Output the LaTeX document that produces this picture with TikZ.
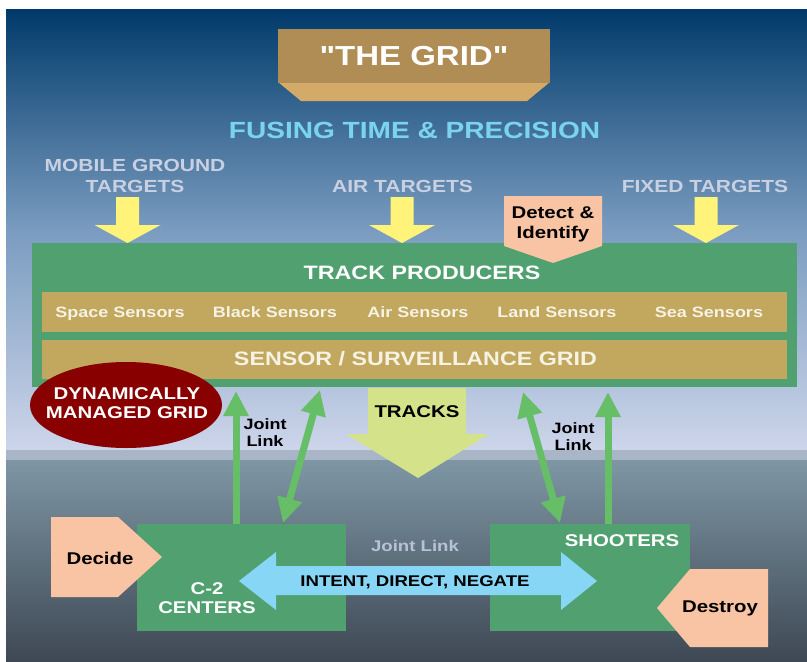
\documentclass[tikz,border=0pt]{standalone}
\usepackage{fontspec}
\setmainfont{Liberation Sans}[FakeStretch=1.2]
\newfontfamily\titlefont{Liberation Sans}[FakeStretch=1.2]
\usetikzlibrary{arrows.meta}
\definecolor{bgA}{RGB}{0,58,106}
\definecolor{bgB}{RGB}{122,156,192}
\definecolor{bgC}{RGB}{205,213,234}
\definecolor{bgBand}{RGB}{168,182,200}
\definecolor{bgD}{RGB}{126,150,164}
\definecolor{bgE}{RGB}{62,72,84}
\definecolor{titletan}{RGB}{176,141,85}
\definecolor{titlebevel}{RGB}{212,170,104}
\definecolor{fuse}{RGB}{122,212,240}
\definecolor{tgtgray}{RGB}{200,208,226}
\definecolor{yel}{RGB}{255,243,122}
\definecolor{boxgreen}{RGB}{80,160,112}
\definecolor{rowtan}{RGB}{194,168,94}
\definecolor{peach}{RGB}{248,196,164}
\definecolor{dred}{RGB}{136,0,0}
\definecolor{tracksc}{RGB}{212,227,138}
\definecolor{jgreen}{RGB}{102,190,102}
\definecolor{lblue}{RGB}{136,214,246}
\definecolor{jlgray}{RGB}{184,194,214}
\definecolor{cream}{RGB}{246,242,228}
\begin{document}
\begin{tikzpicture}[x=1pt,y=-1pt,
  every node/.style={inner sep=0pt, align=center, font=\bfseries},
  tgt/.style={font=\bfseries\fontsize{17.5}{20.5}\selectfont, text=tgtgray},
  sens/.style={font=\bfseries\fontsize{15}{17}\selectfont, text=cream, anchor=base},
  jl/.style={draw=jgreen, line width=7pt, -{Triangle[length=25pt,width=24pt]}},
  jld/.style={draw=jgreen, line width=7pt, {Triangle[length=25pt,width=24pt]}-{Triangle[length=25pt,width=24pt]}},
  yarrow/.pic={\fill[yel] (-11.5,0) -- (11.5,0) -- (11.5,28) -- (33,28) -- (0,46) -- (-33,28) -- (-11.5,28) -- cycle;}
]
\useasboundingbox (0,0) rectangle (807,662);
\fill[white] (0,0) rectangle (807,662);
% background
\shade[top color=bgA, bottom color=bgB] (6,9) rectangle (807,230.5);
\shade[top color=bgB, bottom color=bgC] (6,230) rectangle (807,450.5);
\fill[bgBand] (6,450) rectangle (807,460.5);
\shade[top color=bgD, bottom color=bgE] (6,460) rectangle (807,662);

% title
\fill[titlebevel] (278,82) -- (550,82) -- (527,101) -- (301,101) -- cycle;
\node[fill=titletan, minimum width=272pt, minimum height=54pt, text=white,
      font=\titlefont\bfseries\fontsize{27.5}{30}\selectfont] (title) at (414,56) {"THE GRID"};
\node[font=\bfseries\fontsize{23.4}{26}\selectfont, text=fuse] (fusing) at (414.5,130) {FUSING TIME \& PRECISION};

% target labels
\node[tgt] (mobile) at (135,176) {MOBILE GROUND\\TARGETS};
\node[tgt] (air) at (402.5,186.5) {AIR TARGETS};
\node[tgt] (fixed) at (705,186.5) {FIXED TARGETS};

% yellow arrows
\pic at (127.5,197) {yarrow};
\pic at (402,197) {yarrow};
\pic at (706,197) {yarrow};

% track producers
\node[fill=boxgreen, minimum width=765pt, minimum height=144pt] (track) at (414.5,315) {};
\node[font=\bfseries\fontsize{19.4}{22}\selectfont, text=white] (tplabel) at (422,273) {TRACK PRODUCERS};
\node[fill=rowtan, minimum width=745pt, minimum height=40pt] (sensors) at (414.5,312) {};
\node[sens] (space) at (120,317.5) {Space Sensors};
\node[sens] (black) at (275,317.5) {Black Sensors};
\node[sens] (airs) at (418,317.5) {Air Sensors};
\node[sens] (land) at (557,317.5) {Land Sensors};
\node[sens] (sea) at (709,317.5) {Sea Sensors};
\node[fill=rowtan, minimum width=745pt, minimum height=39pt] (grid) at (414.5,359.5) {};
\node[font=\bfseries\fontsize{19.4}{22}\selectfont, text=cream] (gridlabel) at (415.5,359) {SENSOR / SURVEILLANCE GRID};

% detect & identify
\fill[peach] (504,196) -- (602,196) -- (602,246) -- (553,263) -- (504,246) -- cycle;
\node[font=\bfseries\fontsize{17}{20}\selectfont] (detect) at (553,224.5) {Detect \&\\Identify};

% dynamically managed grid
\fill[dred] (126,405) ellipse [x radius=96, y radius=43];
\node[text=white, font=\bfseries\fontsize{17}{19}\selectfont] (dyn) at (127,403) {DYNAMICALLY\\MANAGED GRID};

% tracks arrow
\fill[tracksc] (368,388) -- (466,388) -- (466,434) -- (489,434) -- (418,478) -- (346,434) -- (368,434) -- cycle;
\node[font=\bfseries\fontsize{17}{19}\selectfont] (tracks) at (417,412) {TRACKS};

% bottom boxes
\node[fill=boxgreen, minimum width=209pt, minimum height=107pt] (c2) at (241.5,577.5) {};
\node[fill=boxgreen, minimum width=200pt, minimum height=107pt] (shoot) at (590,577.5) {};

% joint link arrows
\coordinate (jl1) at (236,0);
\coordinate (jl4) at (608,0);
\draw[jl] (jl1 |- c2.north) -- (236,391);
\draw[jl] (jl4 |- shoot.north) -- (608,392);
\coordinate (d1a) at (283,523);
\coordinate (d1b) at (320,390);
\coordinate (d2a) at (560,523);
\coordinate (d2b) at (523,392);
\draw[jld] (d1a) -- (d1b);
\draw[jld] (d2a) -- (d2b);
\node[font=\bfseries\fontsize{15}{17}\selectfont] (jlleft) at (265,433) {Joint\\Link};
\node[font=\bfseries\fontsize{15}{17}\selectfont] (jlright) at (573,437) {Joint\\Link};

\node[font=\bfseries\fontsize{17}{19}\selectfont, text=white] (c2label) at (207,598.5) {C-2\\CENTERS};
\node[font=\bfseries\fontsize{17}{19}\selectfont, text=white] (shootlabel) at (622,541) {SHOOTERS};

% intent arrow
\fill[lblue] (239,581) -- (276,552) -- (276,566) -- (561,566) -- (561,552) -- (597,581)
  -- (561,610) -- (561,595) -- (276,595) -- (276,610) -- cycle;
\node[font=\bfseries\fontsize{15.5}{18}\selectfont] (intent) at (415,582) {INTENT, DIRECT, NEGATE};
\node[font=\bfseries\fontsize{15.5}{18}\selectfont, text=jlgray] (jlmid) at (415,546) {Joint Link};

% decide / destroy
\fill[peach] (51,517) -- (118,517) -- (162,557) -- (118,597) -- (51,597) -- cycle;
\node[font=\bfseries\fontsize{17}{19}\selectfont] (decide) at (100,558) {Decide};
\fill[peach] (768,569) -- (690,569) -- (657,608) -- (690,647) -- (768,647) -- cycle;
\node[font=\bfseries\fontsize{17}{19}\selectfont] (destroy) at (720,608) {Destroy};
\end{tikzpicture}
\end{document}
